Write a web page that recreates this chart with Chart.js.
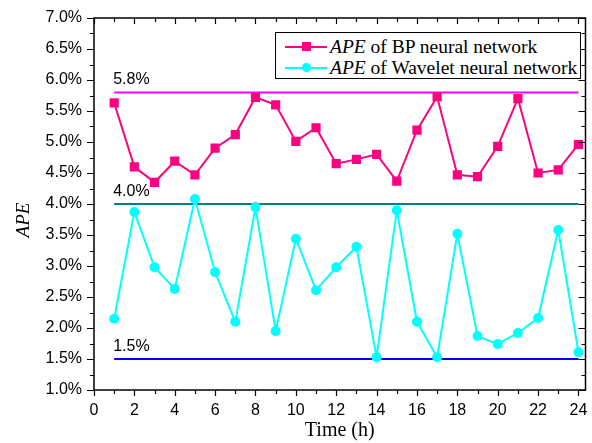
<!DOCTYPE html>
<html>
<head>
<meta charset="utf-8">
<script src="https://cdn.jsdelivr.net/npm/chart.js@4.4.1/dist/chart.umd.min.js"></script>
<style>
body { margin: 0; background: #fff; }
#wrap { position: relative; width: 592px; height: 443px; }
.legend { position: absolute; left: 275px; top: 32px; width: 306px; height: 47px; border: 1px solid #000; box-sizing: border-box; background: #fff; font-family: 'Liberation Serif', serif; font-size: 19.5px; color: #000; }
.row { position: absolute; left: 0; width: 100%; height: 21px; line-height: 21px; white-space: nowrap; }
.sample { position: absolute; left: 9px; top: 10px; width: 42px; height: 2px; }
.mark { position: absolute; }
.label { position: absolute; left: 54px; top: 0; }
</style>
</head>
<body>
<div id="wrap">
  <canvas id="myChart" width="592" height="443"></canvas>
  <div class="legend">
    <div class="row" style="top:3px">
      <span class="sample" style="background:#ff0080"></span>
      <span class="mark" style="left:26px;top:6px;width:9px;height:9px;background:#ff0080"></span>
      <span class="label"><i>APE</i> of BP neural network</span>
    </div>
    <div class="row" style="top:24px">
      <span class="sample" style="background:#00ffff"></span>
      <span class="mark" style="left:26px;top:6px;width:9px;height:9px;border-radius:50%;background:#00ffff"></span>
      <span class="label"><i>APE</i> of Wavelet neural network</span>
    </div>
  </div>
</div>
<script>
const hours = [1, 2, 3, 4, 5, 6, 7, 8, 9, 10, 11, 12, 13, 14, 15, 16, 17, 18, 19, 20, 21, 22, 23, 24]
const bpApe = [5.63, 4.60, 4.35, 4.69, 4.47, 4.90, 5.12, 5.72, 5.60, 5.01, 5.23, 4.65, 4.72, 4.80, 4.37, 5.19, 5.73, 4.47, 4.44, 4.93, 5.70, 4.50, 4.55, 4.96]
const waveletApe = [2.15, 3.87, 2.98, 2.63, 4.08, 2.90, 2.10, 3.95, 1.95, 3.44, 2.61, 2.98, 3.31, 1.53, 3.90, 2.10, 1.53, 3.52, 1.87, 1.74, 1.92, 2.16, 3.58, 1.61]
const limits = [5.8, 4.0, 1.5]
const limitLabels = ['5.8%', '4.0%', '1.5%']
const limitColors = ['#ff00ff', '#008080', '#0000ff']
const xTickValues = [0, 2, 4, 6, 8, 10, 12, 14, 16, 18, 20, 22, 24]
const yTickValues = [1.0, 1.5, 2.0, 2.5, 3.0, 3.5, 4.0, 4.5, 5.0, 5.5, 6.0, 6.5, 7.0]

const toPoints = (vals) => vals.map((v, i) => ({x: hours[i], y: v}))

const limitSets = limits.map((v, i) => ({
    label: limitLabels[i],
    data: [{x: hours[0], y: v}, {x: hours[hours.length - 1], y: v}],
    borderColor: limitColors[i],
    borderWidth: 2,
    pointRadius: 0,
    order: 3
}))

// frame, ticks, limit labels, y title
const decor = {
    id: 'decor',
    afterDatasetsDraw(chart) {
        const {ctx, chartArea: a, scales: {x, y}} = chart
        ctx.save()
        ctx.strokeStyle = '#000'
        ctx.lineWidth = 1.5
        ctx.strokeRect(a.left, a.top, a.right - a.left, a.bottom - a.top)
        ctx.lineWidth = 1.2
        ctx.beginPath()
        const xMinor = xTickValues.slice(1).map((v, i) => (v + xTickValues[i]) / 2)
        const yMinor = yTickValues.slice(1).map((v, i) => (v + yTickValues[i]) / 2)
        const xTick = (v, len) => {
            const px = Math.round(x.getPixelForValue(v)) + 0.5
            ctx.moveTo(px, a.bottom); ctx.lineTo(px, a.bottom + len)
            ctx.moveTo(px, a.top); ctx.lineTo(px, a.top + len)
        }
        const yTick = (v, len) => {
            const py = Math.round(y.getPixelForValue(v)) + 0.5
            ctx.moveTo(a.left, py); ctx.lineTo(a.left - len, py)
            ctx.moveTo(a.right, py); ctx.lineTo(a.right - len, py)
        }
        xTickValues.forEach(v => xTick(v, 6))
        xMinor.forEach(v => xTick(v, 4))
        yTickValues.forEach(v => yTick(v, 7))
        yMinor.forEach(v => yTick(v, 4))
        ctx.stroke()

        ctx.fillStyle = '#000'
        ctx.font = '16px "Liberation Sans", Arial, sans-serif'
        ctx.textBaseline = 'alphabetic'
        ctx.textAlign = 'left'
        limits.forEach((v, i) => {
            ctx.fillText(limitLabels[i], x.getPixelForValue(hours[0]) - 1, y.getPixelForValue(v) - 8)
        })

        ctx.translate(24, 220)
        ctx.rotate(-Math.PI / 2)
        ctx.textAlign = 'center'
        ctx.textBaseline = 'middle'
        ctx.font = 'italic 19px "Liberation Serif", serif'
        ctx.fillText('APE', 0, 0)
        ctx.restore()
    }
}

const ctx = document.getElementById('myChart').getContext('2d')
const myChart = new Chart(ctx, {
    type: 'line',
    data: {
        datasets: [{
            label: 'APE of BP neural network',
            data: toPoints(bpApe),
            borderColor: '#ff0080',
            backgroundColor: '#ff0080',
            borderWidth: 2,
            pointStyle: 'rect',
            pointRadius: 6.5,
            pointBorderWidth: 0,
            order: 1
        }, {
            label: 'APE of Wavelet neural network',
            data: toPoints(waveletApe),
            borderColor: '#00ffff',
            backgroundColor: '#00ffff',
            borderWidth: 2,
            pointStyle: 'circle',
            pointRadius: 5,
            pointBorderWidth: 0,
            order: 2
        }, ...limitSets]
    },
    options: {
        responsive: false,
        animation: false,
        layout: {padding: {top: 18, right: 4, left: 0, bottom: 0}},
        plugins: {
            legend: {display: false},
            tooltip: {enabled: false}
        },
        scales: {
            x: {
                type: 'linear',
                min: 0,
                max: 24.35,
                afterBuildTicks: (s) => { s.ticks = xTickValues.map(v => ({value: v})) },
                afterFit: (s) => { s.height = 53; s.paddingLeft = 0; s.paddingRight = 0 },
                grid: {display: false, drawTicks: false},
                border: {display: false},
                ticks: {
                    padding: 11,
                    color: '#000',
                    font: {family: 'Liberation Sans', size: 16},
                    maxRotation: 0,
                    autoSkip: false
                },
                title: {
                    display: true,
                    text: 'Time (h)',
                    color: '#000',
                    padding: {top: 0, bottom: 0},
                    font: {family: 'Liberation Serif', size: 20}
                }
            },
            y: {
                min: 1,
                max: 7,
                afterBuildTicks: (s) => { s.ticks = yTickValues.map(v => ({value: v})) },
                afterFit: (s) => { s.width = 94; s.paddingTop = 0; s.paddingBottom = 0 },
                grid: {display: false, drawTicks: false},
                border: {display: false},
                ticks: {
                    padding: 12,
                    color: '#000',
                    font: {family: 'Liberation Sans', size: 16},
                    callback: (v) => v.toFixed(1) + '%'
                }
            }
        }
    },
    plugins: [decor]
})
</script>
</body>
</html>
